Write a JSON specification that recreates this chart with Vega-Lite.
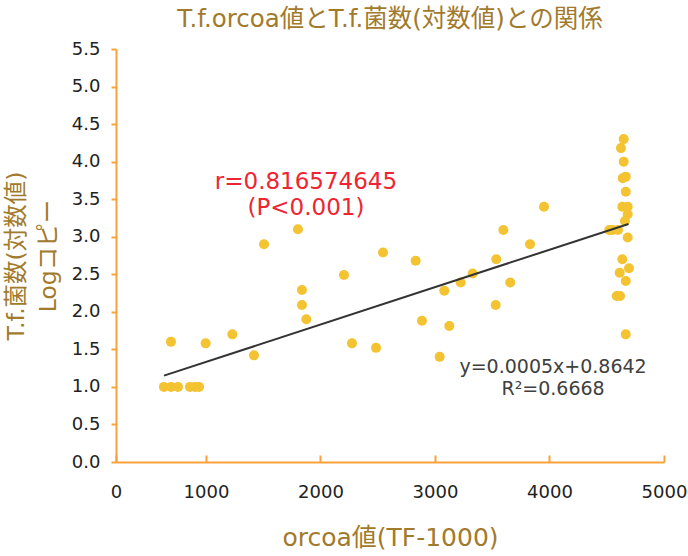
{
  "$schema": "https://vega.github.io/schema/vega-lite/v6.json",
  "autosize": "none",
  "width": 548,
  "height": 413,
  "padding": {"left": 116, "top": 49, "right": 24, "bottom": 94},
  "background": "white",
  "config": {
    "font": "DejaVu Sans, Noto Sans CJK JP",
    "view": {"stroke": null}
  },
  "title": {
    "text": "T.f.orcoa値とT.f.菌数(対数値)との関係",
    "color": "#A27A2C",
    "fontSize": 24.5,
    "fontWeight": "normal",
    "font": "DejaVu Sans, Noto Sans CJK JP",
    "anchor": "middle",
    "offset": 8
  },
  "datasets": {
    "points": [
      {"x": 633, "y": 1.0}, {"x": 694, "y": 1.0}, {"x": 755, "y": 1.0}, {"x": 860, "y": 1.0}, {"x": 904, "y": 1.0}, {"x": 939, "y": 1.0},
      {"x": 694, "y": 1.6}, {"x": 997, "y": 1.58}, {"x": 1230, "y": 1.7}, {"x": 1419, "y": 1.42},
      {"x": 1507, "y": 2.9}, {"x": 1803, "y": 3.1}, {"x": 1838, "y": 2.29}, {"x": 1838, "y": 2.09}, {"x": 1876, "y": 1.9},
      {"x": 2205, "y": 2.49}, {"x": 2275, "y": 1.58}, {"x": 2485, "y": 1.52}, {"x": 2546, "y": 2.79}, {"x": 2831, "y": 2.68},
      {"x": 2886, "y": 1.88}, {"x": 3041, "y": 1.4}, {"x": 3081, "y": 2.28}, {"x": 3125, "y": 1.81}, {"x": 3224, "y": 2.39},
      {"x": 3329, "y": 2.51}, {"x": 3530, "y": 2.09}, {"x": 3535, "y": 2.7}, {"x": 3597, "y": 3.09}, {"x": 3657, "y": 2.39},
      {"x": 3830, "y": 2.9}, {"x": 3952, "y": 3.4},
      {"x": 4648, "y": 4.3}, {"x": 4624, "y": 4.18}, {"x": 4648, "y": 4.0}, {"x": 4666, "y": 3.8}, {"x": 4640, "y": 3.78},
      {"x": 4666, "y": 3.6}, {"x": 4636, "y": 3.4}, {"x": 4683, "y": 3.4}, {"x": 4683, "y": 3.3}, {"x": 4659, "y": 3.21},
      {"x": 4522, "y": 3.09}, {"x": 4550, "y": 3.09}, {"x": 4598, "y": 3.09}, {"x": 4683, "y": 2.99}, {"x": 4636, "y": 2.7},
      {"x": 4694, "y": 2.58}, {"x": 4613, "y": 2.52}, {"x": 4666, "y": 2.41}, {"x": 4587, "y": 2.21}, {"x": 4616, "y": 2.21},
      {"x": 4666, "y": 1.7}
    ],
    "trend": [
      {"x": 633, "y": 1.15},
      {"x": 4690, "y": 3.17}
    ],
    "notes": [
      {"x": 1873, "y": 3.73, "label": "r=0.816574645", "kind": "r"},
      {"x": 1873, "y": 3.38, "label": "(P<0.001)", "kind": "r"},
      {"x": 4031, "y": 1.27, "label": "y=0.0005x+0.8642", "kind": "eq"},
      {"x": 4031, "y": 0.97, "label": "R²=0.6668", "kind": "eq"}
    ]
  },
  "encoding": {
    "x": {
      "field": "x", "type": "quantitative",
      "scale": {"domain": [214, 5000], "nice": false, "zero": false},
      "axis": {
        "title": "orcoa値(TF-1000)",
        "titleColor": "#A27A2C", "titleFontSize": 25, "titleFontWeight": "normal", "titlePadding": 24,
        "values": [214, 1000, 2000, 3000, 4000, 5000],
        "labelExpr": "datum.value < 500 ? '0' : format(datum.value, 'd')",
        "labelColor": "#222222", "labelFontSize": 18, "labelPadding": 28, "labelOverlap": false, "labelFlush": false,
        "grid": false,
        "domainColor": "#F7A23C", "domainWidth": 2,
        "tickColor": "#F7A23C", "tickWidth": 2, "tickSize": -7
      }
    },
    "y": {
      "field": "y", "type": "quantitative",
      "scale": {"domain": [0, 5.5], "nice": false},
      "axis": {
        "title": ["T.f.菌数(対数値)", "Logコピー"],
        "titleColor": "#A27A2C", "titleFontSize": 23.5, "titleFontWeight": "normal", "titleLineHeight": 32, "titlePadding": 11,
        "values": [0, 0.5, 1, 1.5, 2, 2.5, 3, 3.5, 4, 4.5, 5, 5.5],
        "format": ".1f",
        "labelColor": "#222222", "labelFontSize": 18, "labelPadding": 11, "labelOverlap": false, "labelFlush": false,
        "grid": false,
        "domainColor": "#F7A23C", "domainWidth": 2,
        "tickColor": "#F7A23C", "tickWidth": 2, "tickSize": 5
      }
    }
  },
  "layer": [
    {
      "data": {"name": "points"},
      "mark": {"type": "circle", "size": 100, "opacity": 1, "color": "#F3C331"}
    },
    {
      "data": {"name": "trend"},
      "mark": {"type": "line", "color": "#333333", "strokeWidth": 2}
    },
    {
      "data": {"name": "notes"},
      "mark": {"type": "text", "align": "center", "baseline": "middle"},
      "encoding": {
        "text": {"field": "label"},
        "size": {"field": "kind", "type": "nominal", "scale": {"domain": ["r", "eq"], "range": [23, 19]}, "legend": null},
        "color": {"field": "kind", "type": "nominal", "scale": {"domain": ["r", "eq"], "range": ["#EE2530", "#404040"]}, "legend": null}
      }
    }
  ]
}
